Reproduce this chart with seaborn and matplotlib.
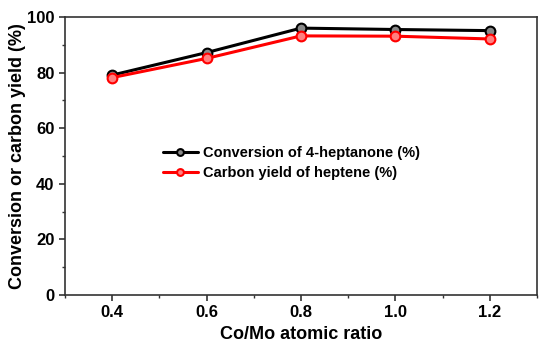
import matplotlib
matplotlib.use("Agg")
import matplotlib.pyplot as plt
import seaborn as sns
import pandas as pd
from matplotlib.ticker import MultipleLocator

ratio = [0.4, 0.6, 0.8, 1.0, 1.2]
conversion = [79.1, 87.2, 96.0, 95.5, 95.1]
carbon_yield = [78.2, 85.1, 93.2, 93.1, 92.1]
series_names = ["Conversion of 4-heptanone (%)", "Carbon yield of heptene (%)"]

sns.set_theme(style="ticks")
plt.rcParams['font.family'] = ['Liberation Sans', 'DejaVu Sans']
plt.rcParams['font.weight'] = 'bold'
plt.rcParams['text.color'] = 'black'
plt.rcParams['axes.labelcolor'] = 'black'
plt.rcParams['xtick.color'] = 'black'
plt.rcParams['ytick.color'] = 'black'

df = pd.DataFrame({
    "ratio": ratio * 2,
    "value": conversion + carbon_yield,
    "series": [series_names[0]] * 5 + [series_names[1]] * 5,
})

fig = plt.figure(figsize=(5.39, 3.44), dpi=100)
ax = fig.add_axes([0.1206, 0.1424, 0.8755, 0.8082])

colors = ["black", "red"]
faces = ["#8a8a8a", "#ff8080"]
for name, c, fc in zip(series_names, colors, faces):
    sub = df[df.series == name]
    sns.lineplot(data=sub, x="ratio", y="value", ax=ax, color=c, lw=2.2,
                 marker="o", markersize=7, markerfacecolor=fc,
                 markeredgecolor=c, markeredgewidth=1.5, label=name)

ax.set_xlim(0.3, 1.3)
ax.set_ylim(0, 100)
ax.xaxis.set_major_locator(MultipleLocator(0.2))
ax.xaxis.set_minor_locator(MultipleLocator(0.1))
ax.yaxis.set_major_locator(MultipleLocator(20))
ax.yaxis.set_minor_locator(MultipleLocator(10))
ax.set_xticks([0.4, 0.6, 0.8, 1.0, 1.2])
ax.set_xticklabels(["0.4", "0.6", "0.8", "1.0", "1.2"])
ax.tick_params(which="major", direction="out", length=4, width=1.2, labelsize=12,
               color="#333333")
ax.tick_params(which="minor", direction="out", length=2.5, width=1.0, color="#333333")
for lab in ax.get_xticklabels() + ax.get_yticklabels():
    lab.set_fontweight("bold")
for s in ax.spines.values():
    s.set_linewidth(1.2)
    s.set_color("#333333")

ax.set_xlabel("Co/Mo atomic ratio", fontsize=13, fontweight="bold", labelpad=4)
ax.set_ylabel("Conversion or carbon yield (%)", fontsize=13, fontweight="bold", labelpad=1)

leg = ax.legend(loc="upper left", bbox_to_anchor=(0.2076, 0.537), frameon=False,
                fontsize=10.5, handlelength=2.4, handletextpad=0.35, labelspacing=0.42,
                borderaxespad=0, borderpad=0, markerscale=0.7)
for t in leg.get_texts():
    t.set_fontweight("bold")

fig.savefig("out.png", dpi=100)
